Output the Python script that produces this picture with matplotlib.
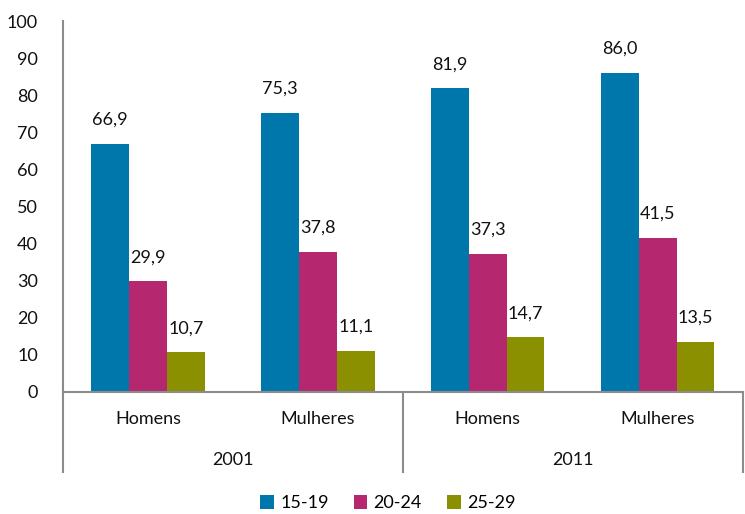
import matplotlib.pyplot as plt
import numpy as np

plt.rcParams['font.family'] = ['Lato', 'DejaVu Sans']

categorias = ['Homens', 'Mulheres', 'Homens', 'Mulheres']
anos = ['2001', '2011']
idades = ['15-19', '20-24', '25-29']
v_15_19 = [66.9, 75.3, 81.9, 86.0]
v_20_24 = [29.9, 37.8, 37.3, 41.5]
v_25_29 = [10.7, 11.1, 14.7, 13.5]
cores = ['#0077AA', '#B5276E', '#8B9000']

fig = plt.figure(figsize=(7.45, 5.14), dpi=100)
ax = fig.add_axes([0.0846, 0.2374, 0.9124, 0.7216])

x = np.arange(len(categorias))
w = 0.222
series = [v_15_19, v_20_24, v_25_29]
for i, (vals, cor, nome) in enumerate(zip(series, cores, idades)):
    pos = x + (i - 1) * w
    ax.bar(pos, vals, width=w, color=cor, label=nome, zorder=2)
    for px, v in zip(pos, vals):
        ax.text(px, v + 4.3, f'{v:.1f}'.replace('.', ','), ha='center', va='bottom',
                fontsize=13, color='#111111')

ax.set_xlim(-0.5, 3.5)
ax.set_ylim(0, 100)
ax.set_yticks(range(0, 101, 10))
ax.tick_params(axis='y', length=0, pad=18, labelsize=13, labelcolor='#111111')
ax.set_xticks([])
for s in ['top', 'right']:
    ax.spines[s].set_visible(False)
for s in ['left', 'bottom']:
    ax.spines[s].set_color('#8c8c8c')
    ax.spines[s].set_linewidth(1.5)

# rótulos de categoria em dois níveis
trans = ax.get_xaxis_transform()
for xi, c in zip(x, categorias):
    ax.text(xi, -0.073, c, transform=trans, ha='center', va='center', fontsize=13, color='#111111')
for j, a in enumerate(anos):
    ax.text(2 * j + 0.5, -0.183, a, transform=trans, ha='center', va='center', fontsize=13, color='#111111')
for xs in [-0.5, 1.5, 3.5]:
    ax.plot([xs, xs], [0, -0.216], transform=trans, color='#8c8c8c', lw=1.5, clip_on=False)

ax.legend(loc='center', bbox_to_anchor=(0.478, -0.30), ncol=3, frameon=False,
          fontsize=13, handlelength=0.75, handleheight=0.75, handletextpad=0.35, columnspacing=1.4)

fig.savefig('out.png', dpi=100)
